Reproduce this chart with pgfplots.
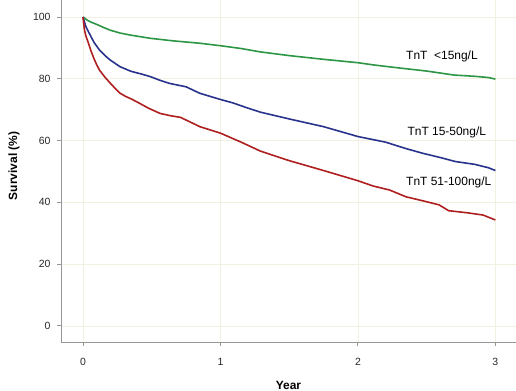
\documentclass[border=0pt]{standalone}
\usepackage{pgfplots}
\pgfplotsset{compat=1.18}
\usepackage{fontspec}
\setmainfont{Liberation Sans}
\definecolor{cgreen}{RGB}{45,150,70}
\definecolor{cblue}{RGB}{40,50,140}
\definecolor{cred}{RGB}{175,30,30}
\definecolor{cgrid}{RGB}{242,240,222}
\definecolor{caxis}{RGB}{150,150,150}
\begin{document}
\begin{tikzpicture}
\begin{axis}[
  scale only axis, width=455bp, height=342bp,
  xmin=-0.16, xmax=3.15, ymin=-5.2, ymax=105.5,
  axis x line*=bottom, axis y line*=left,
  axis line style={caxis, line width=0.9pt},
  xtick={0,1,2,3}, ytick={0,20,40,60,80,100},
  tick style={caxis, line width=0.9pt},
  tick align=outside, major tick length=4bp,
  grid=major, major grid style={cgrid, line width=0.7pt},
  tick label style={font=\fontsize{10.5}{12}\selectfont, text=black!85},
  /pgf/number format/assume math mode=true,
  xticklabel style={yshift=-9bp},
  yticklabel style={xshift=-3bp},
  xlabel={\bfseries Year}, ylabel={\bfseries Survival (\%)},
  label style={font=\fontsize{12}{14}\selectfont},
  xlabel style={at={(axis description cs:0.5,0)}, anchor=center, yshift=-43bp},
  ylabel style={at={(axis description cs:0,0.515)}, anchor=center, yshift=47bp},
  clip=false,
]
\addplot[cgreen, line width=1.6pt] coordinates {
(0,100) (0.03,99.0) (0.06,98.3) (0.1,97.6) (0.15,96.6) (0.2,95.7) (0.27,94.8) (0.35,94.1)
(0.49,93.1) (0.65,92.3) (0.85,91.5) (1.0,90.7) (1.15,89.8) (1.29,88.7) (1.5,87.5) (1.75,86.3)
(2.0,85.2) (2.11,84.5) (2.3,83.5) (2.5,82.5) (2.7,81.2) (2.85,80.8) (2.95,80.4) (3.0,79.9)};
\addplot[cblue, line width=1.6pt] coordinates {
(0,100) (0.02,97) (0.04,95.2) (0.08,91.8) (0.12,89.3) (0.16,87.5) (0.2,86) (0.27,83.9) (0.35,82.4)
(0.42,81.6) (0.49,80.7) (0.56,79.5) (0.63,78.5) (0.75,77.4) (0.85,75.3) (1.0,73.3) (1.09,72.2) (1.2,70.5) (1.29,69.2)
(1.5,67) (1.75,64.5) (2.0,61.3) (2.2,59.5) (2.35,57.4) (2.47,55.9) (2.6,54.5) (2.71,53.2) (2.85,52.3)
(2.95,51.2) (3.0,50.3)};
\addplot[cred, line width=1.6pt] coordinates {
(0,100) (0.01,96) (0.02,94) (0.04,91.5) (0.06,88.8) (0.08,86.5) (0.1,84.5) (0.12,82.8) (0.16,80.5) (0.2,78.5)
(0.24,76.6) (0.27,75.3) (0.31,74.3) (0.35,73.5) (0.41,72.1) (0.48,70.4) (0.56,68.8) (0.63,68.1) (0.71,67.5) (0.78,66.0) (0.85,64.5) (1.0,62.4) (1.15,59.5)
(1.29,56.6) (1.5,53.5) (1.75,50.3) (2.0,47.0) (2.11,45.3) (2.23,44.0) (2.35,41.8) (2.5,40.2)
(2.59,39.2) (2.66,37.3) (2.8,36.6) (2.91,35.9) (3.0,34.3)};
\node[anchor=west, font=\fontsize{12}{14}\selectfont, inner sep=0pt] at (axis cs:2.35,87.1) {TnT \ <15ng/L};
\node[anchor=west, font=\fontsize{12}{14}\selectfont, inner sep=0pt] at (axis cs:2.36,62.5) {TnT 15-50ng/L};
\node[anchor=west, font=\fontsize{12}{14}\selectfont, inner sep=0pt] at (axis cs:2.35,46.6) {TnT 51-100ng/L};
\end{axis}
\pgfresetboundingbox
\path (-61bp,-49bp) rectangle (455bp,342bp);
\end{tikzpicture}
\end{document}
